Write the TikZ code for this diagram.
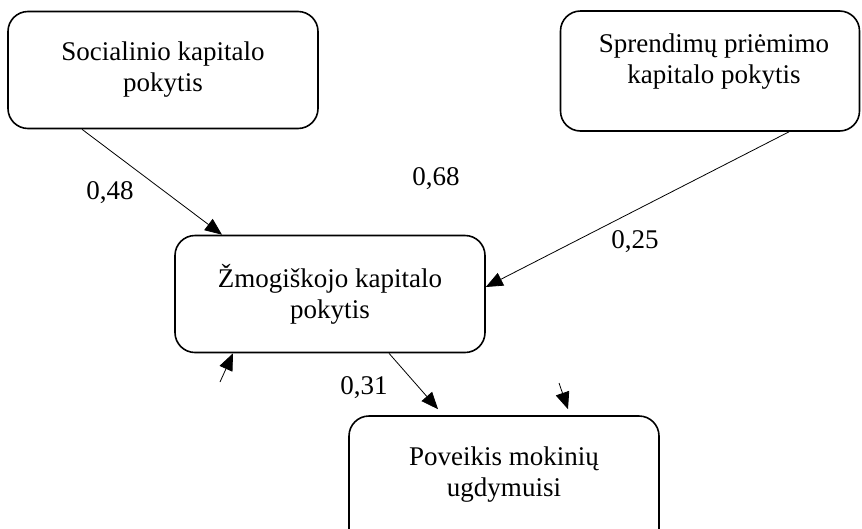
\documentclass[tikz,border=0pt]{standalone}
\usepackage{fontspec}
\setmainfont{Liberation Serif}
\usetikzlibrary{arrows.meta}

\begin{document}
\begin{tikzpicture}%
    [x=1pt, y=-1pt,
     box/.style = {draw, line width=1.6pt, rounded corners=20pt, align=center,
                   font=\fontsize{27}{31}\selectfont},
     path/.style = {-{Triangle[length=17pt,width=14pt]}, line width=0.8pt},
     coef/.style = {font=\fontsize{27}{31}\selectfont, align=center}]
    \useasboundingbox (0,0) rectangle (862,528);
    \clip (0,0) rectangle (862,528);

    \node [box, minimum width=310pt, minimum height=117pt] (soc) at (163,70) {Socialinio kapitalo\\pokytis};
    \node [box, minimum width=299pt, minimum height=120pt,
           label={[coef, xshift=4pt, yshift=9pt]center:Sprendimų priėmimo\\kapitalo pokytis}] (dec) at (710,71) {};
    \node [box, minimum width=310pt, minimum height=117pt] (hum) at (330,294) {Žmogiškojo kapitalo\\pokytis};
    % bottom edge runs off the page
    \node [box, minimum width=310pt, minimum height=136pt,
           label={[coef, yshift=9pt]center:Poveikis mokinių\\ugdymuisi}] (eff) at (504,484) {};

    \draw [path] ([xshift=-81pt]soc.south) -- ([xshift=-108pt]hum.north);
    \draw [path] ([xshift=79pt]dec.south) -- ([yshift=7pt]hum.east);
    \draw [path] ([xshift=59pt]hum.south) -- ([xshift=-66pt,yshift=6pt]eff.north);

    % residual terms
    \coordinate (ehum) at (220,382);
    \coordinate (eeff) at (559,383);
    \draw [path] (ehum) -- ([xshift=-97pt]hum.south);
    \draw [path] (eeff) -- ([xshift=64pt,yshift=6pt]eff.north);

    \node [coef] (c48) at (110,193) {0,48};
    \node [coef] (c68) at (436,179) {0,68};
    \node [coef] (c25) at (635,242) {0,25};
    \node [coef] (c31) at (364,388) {0,31};
\end{tikzpicture}
\end{document}
